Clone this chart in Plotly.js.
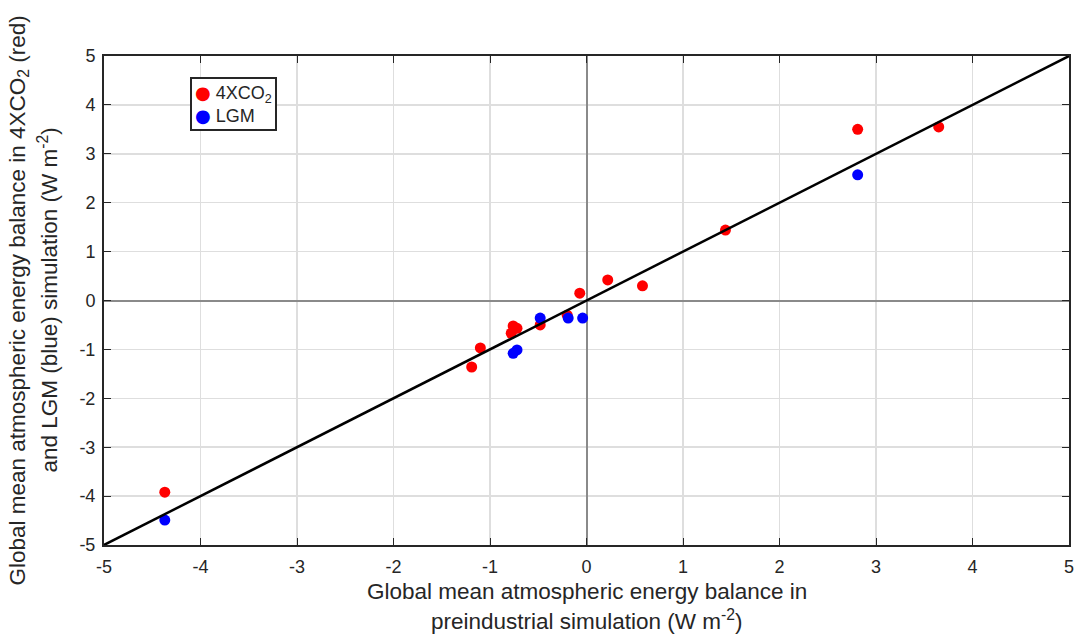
<!DOCTYPE html>
<html>
<head>
<meta charset="utf-8">
<script src="https://cdn.plot.ly/plotly-3.0.1.min.js"></script>
<style>html,body{margin:0;padding:0;background:#fff;}#chart{width:1077px;height:635px;}</style>
</head>
<body>
<div id="chart"></div>
<script>
// 4XCO2 (red): preindustrial vs 4XCO2
const co2X = [-4.37, -1.19, -1.10, -0.76, -0.72, -0.78, -0.48, -0.20, -0.07, 0.22, 0.58, 1.44, 2.81, 3.65];
const co2Y = [-3.92, -1.36, -0.97, -0.52, -0.57, -0.67, -0.50, -0.30, 0.15, 0.42, 0.30, 1.44, 3.50, 3.55];
// LGM (blue)
const lgmX = [-4.37, -0.76, -0.72, -0.48, -0.19, -0.04, 2.81];
const lgmY = [-4.49, -1.08, -1.01, -0.36, -0.36, -0.36, 2.57];
// 1:1 line
const lineX = [-5, 5];
const lineY = [-5, 5];
const tickVals = [-5, -4, -3, -2, -1, 0, 1, 2, 3, 4, 5];
const tickText = ['-5', '-4', '-3', '-2', '-1', '0', '1', '2', '3', '4', '5'];
const seriesNames = ['4XCO<sub>2</sub>', 'LGM'];
const seriesColors = ['#ff0000', '#0000ff'];
const xTitleLines = ['Global mean atmospheric energy balance in', 'preindustrial simulation (W m<sup>-2</sup>)'];
const yTitleLines = ['Global mean atmospheric energy balance in 4XCO<sub>2</sub> (red)', 'and LGM (blue) simulation (W m<sup>-2</sup>)'];

const fam = 'Liberation Sans, Arial, sans-serif';
const txt = '#262626';
const tickFont = {family: fam, size: 18, color: txt};
const titleFont = {family: fam, size: 22.5, color: txt};

const traces = [
  {x: co2X, y: co2Y, mode: 'markers', type: 'scatter', name: seriesNames[0], showlegend: false,
   marker: {color: seriesColors[0], size: 11}},
  {x: lgmX, y: lgmY, mode: 'markers', type: 'scatter', name: seriesNames[1], showlegend: false,
   marker: {color: seriesColors[1], size: 11}},
  {x: lineX, y: lineY, mode: 'lines', type: 'scatter', showlegend: false,
   line: {color: '#000000', width: 2.5}}
];

const axisCommon = {
  range: [-5, 5], tickvals: tickVals, ticktext: tickText, ticks: 'inside', ticklen: 7, tickcolor: txt,
  showline: true, linecolor: txt, linewidth: 2, mirror: 'allticks',
  showgrid: true, gridcolor: '#dedede', gridwidth: 1.5,
  zeroline: true, zerolinecolor: '#8a8a8a', zerolinewidth: 2,
  tickfont: tickFont
};

const legendText = seriesNames.map((n, i) =>
  '<span style="color:' + seriesColors[i] + '; font-family:DejaVu Sans">●</span> ' + n).join('<br>');

const annotations = [
  {text: xTitleLines[0], xref: 'paper', yref: 'paper', x: 0.5, y: 0, yshift: -46, showarrow: false, font: titleFont, xanchor: 'center', yanchor: 'middle'},
  {text: xTitleLines[1], xref: 'paper', yref: 'paper', x: 0.5, y: 0, yshift: -75, showarrow: false, font: titleFont, xanchor: 'center', yanchor: 'middle'},
  {text: yTitleLines[0], xref: 'paper', yref: 'paper', x: 0, y: 0.5, xshift: -86, showarrow: false, font: titleFont, textangle: -90, xanchor: 'center', yanchor: 'middle'},
  {text: yTitleLines[1], xref: 'paper', yref: 'paper', x: 0, y: 0.5, xshift: -57, showarrow: false, font: titleFont, textangle: -90, xanchor: 'center', yanchor: 'middle'},
  {text: legendText, xref: 'paper', yref: 'paper', x: 0.0891, y: 0.957, xanchor: 'left', yanchor: 'top',
   showarrow: false, align: 'left', font: {family: fam, size: 18, color: txt},
   bordercolor: txt, borderwidth: 2, borderpad: 3, bgcolor: '#ffffff'}
];

const layout = {
  width: 1077, height: 635,
  margin: {l: 104, r: 8, t: 56, b: 90},
  paper_bgcolor: '#ffffff', plot_bgcolor: '#ffffff',
  font: tickFont,
  showlegend: false,
  xaxis: Object.assign({}, axisCommon, {ticklabelstandoff: 4}),
  yaxis: Object.assign({}, axisCommon, {ticklabelstandoff: 3}),
  annotations: annotations
};

Plotly.newPlot('chart', traces, layout, {displayModeBar: false, staticPlot: true});
</script>
</body>
</html>
